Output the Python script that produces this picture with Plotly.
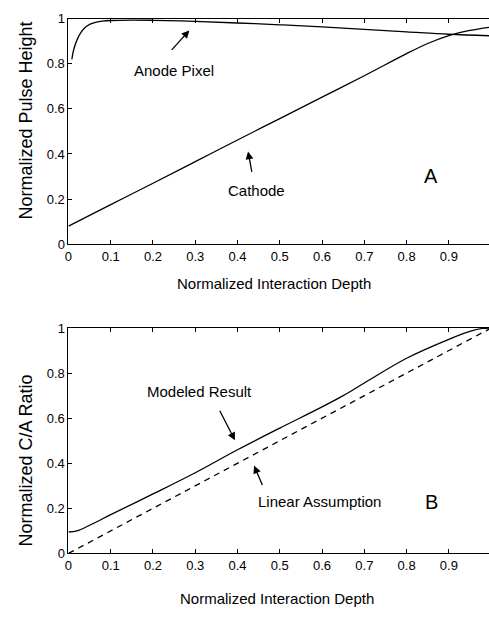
import plotly.graph_objects as go

# ---------------- data ----------------
# Panel A
anode_x = [0.008, 0.012, 0.02, 0.03, 0.04, 0.05, 0.06, 0.08, 0.1, 0.15, 0.2, 0.3, 0.4, 0.5, 0.6, 0.7, 0.8, 0.9, 1.0]
anode_y = [0.82, 0.86, 0.905, 0.94, 0.962, 0.975, 0.982, 0.989, 0.992, 0.994, 0.993, 0.988, 0.981, 0.973, 0.964, 0.953, 0.942, 0.931, 0.924]
cathode_x = [0.0, 0.1, 0.2, 0.3, 0.4, 0.5, 0.6, 0.7, 0.8, 0.85, 0.9, 0.95, 1.0]
cathode_y = [0.08, 0.175, 0.27, 0.366, 0.462, 0.557, 0.652, 0.747, 0.845, 0.89, 0.925, 0.948, 0.963]

# Panel B
model_x = [0.0, 0.02, 0.05, 0.1, 0.2, 0.3, 0.4, 0.5, 0.6, 0.65, 0.7, 0.8, 0.9, 0.95, 0.98, 1.0]
model_y = [0.095, 0.1, 0.125, 0.172, 0.264, 0.358, 0.46, 0.556, 0.65, 0.7, 0.756, 0.866, 0.95, 0.985, 0.998, 1.0]
linear_x = [0.0, 1.0]
linear_y = [0.0, 1.0]

x_ticks = [0, 0.1, 0.2, 0.3, 0.4, 0.5, 0.6, 0.7, 0.8, 0.9]
x_tick_text = ["0", "0.1", "0.2", "0.3", "0.4", "0.5", "0.6", "0.7", "0.8", "0.9"]
y_ticks = [0, 0.2, 0.4, 0.6, 0.8, 1.0]
y_tick_text = ["0", "0.2", "0.4", "0.6", "0.8", "1"]

FONT = "Liberation Sans, Arial, sans-serif"
W, H = 489, 619

fig = go.Figure()
line = dict(color="black", width=1.3)
fig.add_trace(go.Scatter(x=anode_x, y=anode_y, mode="lines", line=line, line_shape="spline", xaxis="x", yaxis="y"))
fig.add_trace(go.Scatter(x=cathode_x, y=cathode_y, mode="lines", line=line, line_shape="spline", xaxis="x", yaxis="y"))
fig.add_trace(go.Scatter(x=model_x, y=model_y, mode="lines", line=line, line_shape="spline", xaxis="x2", yaxis="y2"))
fig.add_trace(go.Scatter(x=linear_x, y=linear_y, mode="lines",
                         line=dict(color="black", width=1.3, dash="6px,5px"), xaxis="x2", yaxis="y2"))

xdom = [65 / W, 1.0]
top_dom = [1 - 243 / H, 1 - 12 / H]
bot_dom = [1 - 560 / H, 1 - 329 / H]

def xax(anchor, dom):
    return dict(domain=dom, anchor=anchor, range=[0, 0.995], showline=True, linecolor="black", linewidth=1,
                mirror="ticks", ticks="inside", ticklen=4, tickcolor="black", tickwidth=1,
                tickvals=x_ticks, ticktext=x_tick_text, showgrid=False, zeroline=False,
                tickfont=dict(family=FONT, size=13, color="black"), ticklabelstandoff=0)

def yax(anchor, dom):
    return dict(domain=dom, anchor=anchor, range=[0, 1], showline=True, linecolor="black", linewidth=1,
                mirror=False, ticks="inside", ticklen=4, tickcolor="black", tickwidth=1,
                tickvals=y_ticks, ticktext=y_tick_text, showgrid=False, zeroline=False,
                tickfont=dict(family=FONT, size=13, color="black"))

def yright(anchor, over):
    return dict(overlaying=over, anchor=anchor, side="right", range=[0, 1], showline=False,
                ticks="inside", ticklen=4, tickcolor="black", tickwidth=1, tickvals=y_ticks,
                showticklabels=False, showgrid=False, zeroline=False)

anns = []
def txt(text, x, y, xref, yref, size, angle=0):
    anns.append(dict(text=text, x=x, y=y, xref=xref, yref=yref, showarrow=False, textangle=angle,
                     font=dict(family=FONT, size=size, color="black"), xanchor="center", yanchor="middle"))

def arrow(x, y, xref, yref, ax, ay):
    anns.append(dict(text="", x=x, y=y, xref=xref, yref=yref, showarrow=True, ax=ax, ay=ay,
                     arrowhead=2, arrowsize=1.2, arrowwidth=1.3, arrowcolor="black"))

# Panel A annotations
txt("Anode Pixel", 0.249, 0.771, "x", "y", 15)
arrow(0.286, 0.948, "x", "y", -19, 21)
txt("Cathode", 0.446, 0.238, "x", "y", 15)
arrow(0.425, 0.411, "x", "y", 4, 22)
txt("A", 0.857, 0.303, "x", "y", 20)
# Panel B annotations
txt("Modeled Result", 0.31, 0.719, "x2", "y2", 15)
arrow(0.394, 0.502, "x2", "y2", -16, -31)
txt("Linear Assumption", 0.594, 0.229, "x2", "y2", 15)
arrow(0.439, 0.39, "x2", "y2", 9, 21)
txt("B", 0.859, 0.229, "x2", "y2", 20)

# axis titles
txt("Normalized Interaction Depth", 272 / W, 1 - 283 / H, "paper", "paper", 15)
txt("Normalized Interaction Depth", 275 / W, 1 - 606 / H, "paper", "paper", 15)
txt("Normalized Pulse Height", 22 / W, 1 - 116.5 / H, "paper", "paper", 18, -90)
txt("Normalized C/A Ratio", 22 / W, 1 - 465 / H, "paper", "paper", 18, -90)

fig.update_layout(
    width=W, height=H, autosize=False,
    margin=dict(l=0, r=0, t=0, b=0, pad=0),
    paper_bgcolor="white", plot_bgcolor="white",
    showlegend=False,
    xaxis=xax("y", xdom), yaxis=yax("x", top_dom), yaxis3=yright("x", "y"),
    xaxis2=xax("y2", xdom), yaxis2=yax("x2", bot_dom), yaxis4=yright("x2", "y2"),
    annotations=anns,
)

fig.write_html("out.html")
